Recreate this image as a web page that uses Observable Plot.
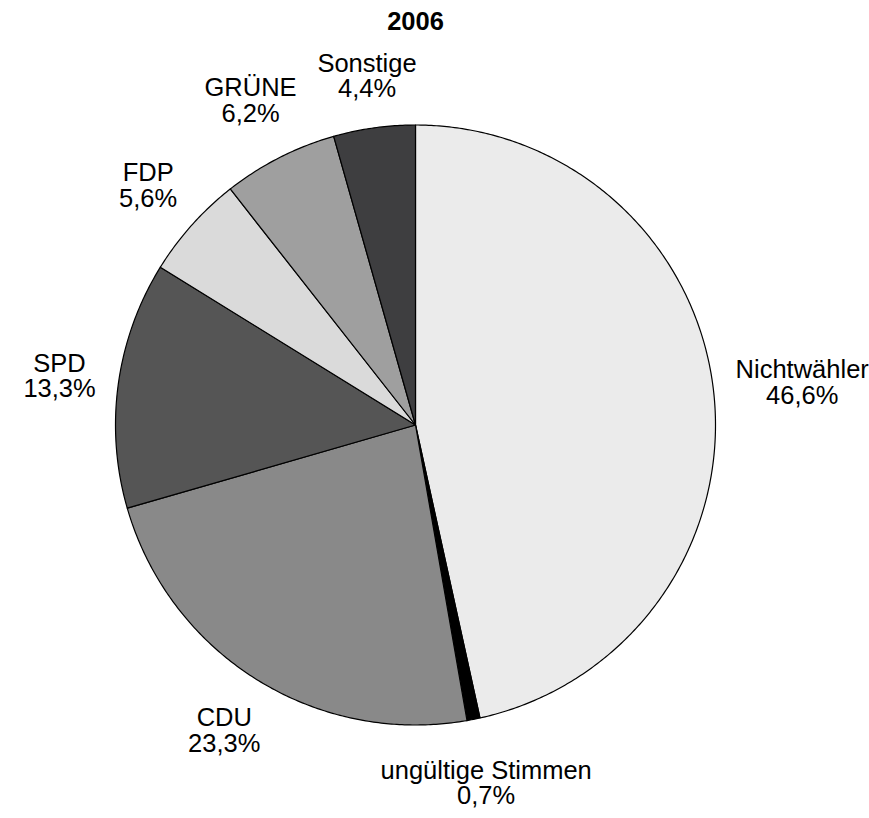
<!DOCTYPE html>
<html>
<head>
<meta charset="utf-8">
<script src="https://cdn.jsdelivr.net/npm/d3@7"></script>
<script src="https://cdn.jsdelivr.net/npm/@observablehq/plot@0.6"></script>
<style>
  html, body { margin: 0; padding: 0; background: #ffffff; }
  #chart { width: 869px; height: 818px; }
</style>
</head>
<body>
<div id="chart"></div>
<script>
// ---- data ----
const title = "2006";
const categories = ["Nichtwähler", "ungültige Stimmen", "CDU", "SPD", "FDP", "GRÜNE", "Sonstige"];
const values = [46.6, 0.7, 23.3, 13.3, 5.6, 6.2, 4.4];
const greys = ["#ebebeb", "#000000", "#898989", "#555555", "#dadada", "#9f9f9f", "#3e3e40"];

// ---- layout constants ----
const W = 869, H = 818;
const mL = 115, mR = 154, mT = 124.5, mB = 93.5;
const radiusPx = (W - mL - mR) / 2;
const fontSize = 25.5;
const fontFamily = "'Liberation Sans', Arial, sans-serif";

// ---- derived geometry (from data) ----
const arcs = d3.pie().sort(null).value(d => d.value)(
  categories.map((name, i) => ({ name, value: values[i] }))
);

const slicePoints = [];
for (const a of arcs) {
  const name = a.data.name;
  slicePoints.push({ name, x: 0, y: 0 });
  const n = Math.max(2, Math.ceil((a.endAngle - a.startAngle) / (Math.PI / 360)));
  for (let k = 0; k <= n; k++) {
    const t = a.startAngle + (a.endAngle - a.startAngle) * k / n;
    slicePoints.push({ name, x: Math.sin(t), y: Math.cos(t) });
  }
  slicePoints.push({ name, x: 0, y: 0 });
}

// label box placed outside the rim along the slice's middle angle
const ctx = document.createElement("canvas").getContext("2d");
ctx.font = `${fontSize}px ${fontFamily}`;
const gapPx = 20;
const labelData = arcs.map(a => {
  const m = (a.startAngle + a.endAngle) / 2;
  const lines = [a.data.name, a.data.value.toFixed(1).replace(".", ",") + "%"];
  const w = Math.max(...lines.map(s => ctx.measureText(s).width));
  const h = lines.length * fontSize;
  const d = radiusPx + gapPx + (w / 2) * Math.abs(Math.sin(m)) + (h / 2) * Math.abs(Math.cos(m));
  const rr = d / radiusPx;
  return { name: a.data.name, text: lines.join("\n"), x: rr * Math.sin(m), y: rr * Math.cos(m) };
});

const chart = Plot.plot({
  width: W,
  height: H,
  marginLeft: mL,
  marginRight: mR,
  marginTop: mT,
  marginBottom: mB,
  x: { domain: [-1, 1], axis: null },
  y: { domain: [-1, 1], axis: null },
  color: { domain: categories, range: greys },
  style: { fontFamily, background: "#ffffff", overflow: "visible" },
  marks: [
    Plot.line(slicePoints, {
      x: "x", y: "y", z: "name",
      fill: "name", stroke: "#000000", strokeWidth: 1.2,
      strokeLinejoin: "round", curve: "linear"
    }),
    Plot.text(labelData, {
      x: "x", y: "y", text: "text",
      fontSize, lineHeight: 1, lineAnchor: "middle",
      textAnchor: "middle", fill: "#000000"
    }),
    Plot.text([title], {
      frameAnchor: "top", text: d => d, dy: -95.5,
      lineAnchor: "bottom", fontSize: 25.5, fontWeight: "bold", fill: "#000000"
    })
  ]
});

document.getElementById("chart").appendChild(chart);
</script>
</body>
</html>
